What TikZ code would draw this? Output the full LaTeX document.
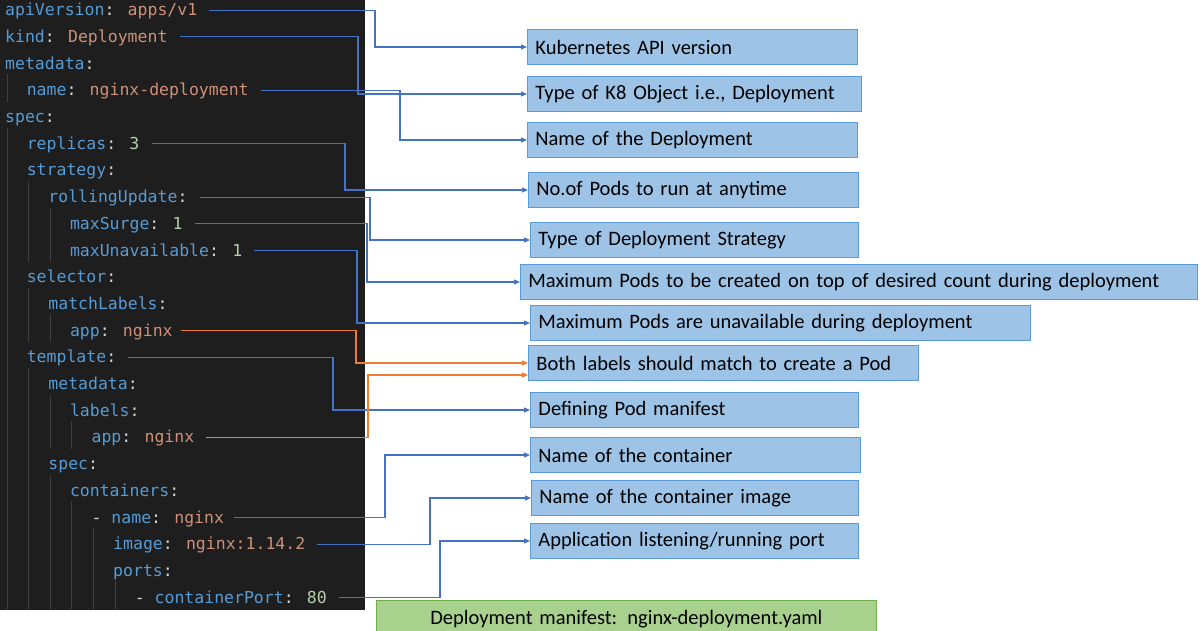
\documentclass[tikz,border=0pt]{standalone}
\usepackage{fontspec}
\setmainfont{Carlito}
\newfontfamily\codefont{DejaVu Sans Mono}
\usetikzlibrary{arrows.meta,calc}
\definecolor{kb}{HTML}{569CD6}
\definecolor{ks}{HTML}{CE9178}
\definecolor{kn}{HTML}{B5CEA8}
\definecolor{kw}{HTML}{D4D4D4}
\definecolor{bg}{HTML}{1E1E1E}
\definecolor{guide}{HTML}{404040}
\definecolor{cb}{HTML}{4472C4}
\definecolor{co}{HTML}{ED7D31}
\definecolor{bxfill}{HTML}{9DC3E6}
\definecolor{bxline}{HTML}{5B9BD5}
\definecolor{gfill}{HTML}{A9D18E}
\definecolor{gline}{HTML}{70AD47}
\newcommand{\K}[1]{\textcolor{kb}{#1}}
\newcommand{\Sv}[1]{\textcolor{ks}{#1}}
\newcommand{\Nv}[1]{\textcolor{kn}{#1}}
\begin{document}
\begin{tikzpicture}[x=1pt,y=-1pt,
  code/.style={anchor=base west,inner sep=0pt,text=kw,font=\codefont\fontsize{16.5}{18}\selectfont},
  box/.style={draw=bxline,fill=bxfill,line width=0.8pt,anchor=west,minimum height=35,inner xsep=8,text=black,font=\fontsize{20.5}{22}\selectfont,align=left,text width=#1-16},
  conn/.style={draw=cb,line width=1.1pt,-{Triangle[length=6pt,width=5pt]}},
  conno/.style={conn,draw=co},
  gd/.style={guide,line width=1pt}]
\useasboundingbox (0,0) rectangle (1200,630);
\fill[bg] (0,-2) rectangle (365,610);
\def\cw{10.8}
\foreach \c/\a/\b in {0/4/4,0/6/23,2/8/10,4/9/10,2/12/13,4/13/13,2/15/23,4/16/17,6/17/17,4/19/23,6/20/23,8/21/23,10/23/23}{
  \draw[gd] ({7+\c*\cw},{(\a-1)*26.7-6}) -- ({7+\c*\cw},{\b*26.7-5});
}
\newcommand{\cl}[4]{\node[code] (#1) at ({5+#2*\cw},{#3*26.7-11}) {#4};}
\cl{c1}{0}{1}{\K{apiVersion}: \Sv{apps/v1}}
\cl{c2}{0}{2}{\K{kind}: \Sv{Deployment}}
\cl{c3}{0}{3}{\K{metadata}:}
\cl{c4}{2}{4}{\K{name}: \Sv{nginx-deployment}}
\cl{c5}{0}{5}{\K{spec}:}
\cl{c6}{2}{6}{\K{replicas}: \Nv{3}}
\cl{c7}{2}{7}{\K{strategy}:}
\cl{c8}{4}{8}{\K{rollingUpdate}:}
\cl{c9}{6}{9}{\K{maxSurge}: \Nv{1}}
\cl{c10}{6}{10}{\K{maxUnavailable}: \Nv{1}}
\cl{c11}{2}{11}{\K{selector}:}
\cl{c12}{4}{12}{\K{matchLabels}:}
\cl{c13}{6}{13}{\K{app}: \Sv{nginx}}
\cl{c14}{2}{14}{\K{template}:}
\cl{c15}{4}{15}{\K{metadata}:}
\cl{c16}{6}{16}{\K{labels}:}
\cl{c17}{8}{17}{\K{app}: \Sv{nginx}}
\cl{c18}{4}{18}{\K{spec}:}
\cl{c19}{6}{19}{\K{containers}:}
\cl{c20}{8}{20}{- \K{name}: \Sv{nginx}}
\cl{c21}{10}{21}{\K{image}: \Sv{nginx:1.14.2}}
\cl{c22}{10}{22}{\K{ports}:}
\cl{c23}{12}{23}{- \K{containerPort}: \Nv{80}}
% boxes
\node[box=330] (b1) at (527,47) {Kubernetes API version};
\node[box=334] (b2) at (527,94) {Type of K8 Object i.e., Deployment};
\node[box=330] (b3) at (527,140) {Name of the Deployment};
\node[box=330] (b4) at (528,190) {No.of Pods to run at anytime};
\node[box=328] (b5) at (530,240) {Type of Deployment Strategy};
\node[box=677] (b6) at (520,282) {Maximum Pods to be created on top of desired count during deployment};
\node[box=500] (b7) at (530,323) {Maximum Pods are unavailable during deployment};
\node[box=390] (b8) at (528,363) {Both labels should match to create a Pod};
\node[box=328] (b9) at (530,410) {Defining Pod manifest};
\node[box=330] (b10) at (530,455) {Name of the container};
\node[box=327] (b11) at (531,498) {Name of the container image};
\node[box=328] (b12) at (530,541) {Application listening/running port};
\node[box=500,draw=gline,fill=gfill,minimum height=38,align=center] (g) at (376,619) {Deployment manifest: nginx-deployment.yaml};
% connectors
\newcommand{\cn}[6]{%
  \coordinate (s#1) at ($(#2.base east)+(#3,-5.5)$);
  \coordinate (v#1) at (#4,0);
  \draw[#6] (s#1) -- (s#1 -| v#1) |- (#5);}
\cn{1}{c1}{12}{375}{b1.west}{conn}
\cn{2}{c2}{12}{358}{b2.west}{conn}
\cn{3}{c4}{12}{400}{b3.west}{conn}
\cn{4}{c6}{12}{345}{b4.west}{conn}
\cn{5}{c8}{12}{370}{b5.west}{conn}
\cn{6}{c9}{12}{367}{b6.west}{conn}
\cn{7}{c10}{12}{357}{b7.west}{conn}
\cn{8}{c13}{8}{356}{b8.west}{conno}
\cn{9}{c14}{12}{333}{b9.west}{conn}
\cn{10}{c17}{12}{368}{$(b8.west)+(0,12)$}{conno}
\cn{11}{c20}{10}{385}{b10.west}{conn}
\cn{12}{c21}{12}{430}{b11.west}{conn}
\cn{13}{c23}{12}{440}{b12.west}{conn}
\end{tikzpicture}
\end{document}
